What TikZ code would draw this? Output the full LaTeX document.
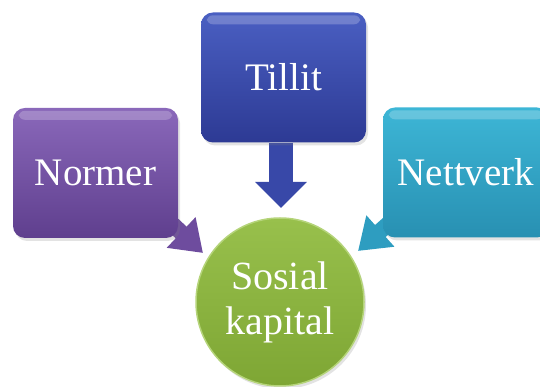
\documentclass[tikz,border=0pt]{standalone}
\usepackage{fontspec}
\setmainfont{Liberation Serif}
\usetikzlibrary{arrows.meta,shadows,calc,backgrounds}
\definecolor{purpT}{HTML}{8A68BA}
\definecolor{purpB}{HTML}{5F3F8E}
\definecolor{purpA}{HTML}{6E4C9E}
\definecolor{blueT}{HTML}{4A5FC2}
\definecolor{blueB}{HTML}{2D3A94}
\definecolor{blueA}{HTML}{3848A8}
\definecolor{tealT}{HTML}{3DB6D6}
\definecolor{tealB}{HTML}{2890B2}
\definecolor{tealA}{HTML}{2E9DC0}
\definecolor{grnT}{HTML}{98C04C}
\definecolor{grnB}{HTML}{7EA634}
\definecolor{grnR}{HTML}{B5D47A}
\begin{document}
\begin{tikzpicture}[x=1pt,y=1pt,
  box/.style={rectangle, rounded corners=12pt, minimum width=165pt, minimum height=130pt,
    inner sep=0pt, text=white, font=\fontsize{39}{42}\selectfont,
    drop shadow={opacity=0.22, shadow xshift=2pt, shadow yshift=-3pt}},
  hub/.style={circle, minimum size=168pt, inner sep=0pt, text=white, align=center,
    font=\fontsize{40}{45}\selectfont, top color=grnT, bottom color=grnB,
    draw=grnR, line width=1.5pt,
    drop shadow={opacity=0.22, shadow xshift=2pt, shadow yshift=-3pt}},
  gloss/.style={fill=white, opacity=0.22, rounded corners=6pt}
]
\useasboundingbox (0,0) rectangle (540,387);

\node[box, top color=purpT, bottom color=purpB] (normer) at (95.5,214) {Normer};
\node[box, top color=blueT, bottom color=blueB] (tillit) at (283.5,309.5) {Tillit};
\node[box, top color=tealT, bottom color=tealB, minimum width=166pt] (nettverk) at (466,214.5) {Nettverk};
\node[hub] (sosial) at (280,85) {Sosial\\kapital};

% gloss highlights
\fill[gloss] ($(normer.north west)+(6,-3)$) rectangle ($(normer.north east)+(-6,-12)$);
\fill[gloss] ($(tillit.north west)+(6,-3)$) rectangle ($(tillit.north east)+(-6,-12)$);
\fill[gloss] ($(nettverk.north west)+(6,-3)$) rectangle ($(nettverk.north east)+(-6,-12)$);

\coordinate (normertip) at (203,134);
\coordinate (tillittip) at (281,179);
\coordinate (nettverktip) at (358,136);

\begin{scope}[on background layer]
  \draw[line width=16pt, purpA, -{Triangle[width=40pt,length=30pt]}]
    ($(normer.south east)+(-8,16)$) -- (normertip);
  \draw[line width=24pt, blueA, -{Triangle[width=50pt,length=26pt]}]
    (tillittip |- tillit.south) -- (tillittip);
  \draw[line width=16pt, tealA, -{Triangle[width=40pt,length=30pt]}]
    ($(nettverk.south west)+(8,16)$) -- (nettverktip);
\end{scope}
\end{tikzpicture}
\end{document}
